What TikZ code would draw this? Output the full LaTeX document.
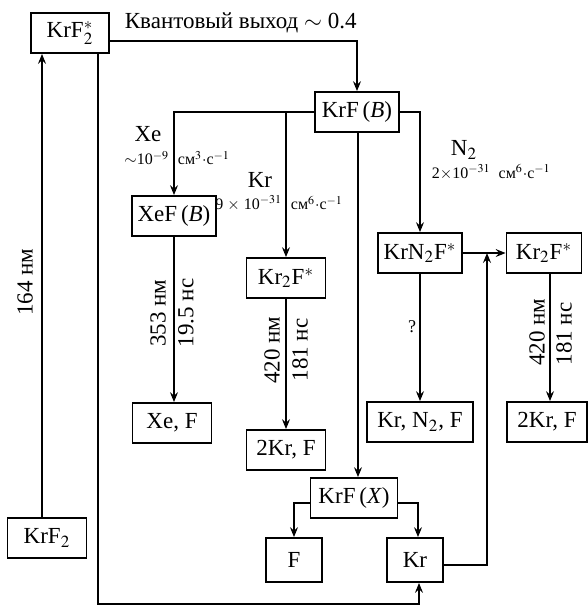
\documentclass[tikz,border=0pt]{standalone}
\usepackage{mathptmx}
\usepackage{fontspec}
\setmainfont{Liberation Serif}
\usetikzlibrary{arrows.meta}

\begin{document}
\begin{tikzpicture}[x=0.5pt,y=0.5pt,yscale=-1,xscale=1,
    box/.style={draw,line width=0.9pt,minimum height=20pt,inner sep=1pt,font=\fontsize{11.5}{13}\selectfont},
    arr/.style={line width=0.6pt,-{Stealth[length=5pt,width=4pt,inset=1.8pt]}},
    big/.style={inner sep=0.75pt,font=\fontsize{11.5}{13}\selectfont},
    rot/.style={inner sep=0.75pt,rotate=90,font=\fontsize{11.5}{13}\selectfont},
    rate/.style={inner sep=0.75pt,font=\fontsize{8}{9}\selectfont}]
        \useasboundingbox (0,0) rectangle (588,607);
        % boxes
        \draw (70,33) node [box,minimum width=39pt] (krfs) {KrF$_2^*$};
        \draw (47,538) node [box,minimum width=39.5pt] (krftwo) {KrF$_2$};
        \draw (357,112) node [box,minimum width=42pt] (krfb) {KrF\,(\textit{B})};
        \draw (174,216) node [box,minimum width=42pt] (xefb) {XeF\,(\textit{B})};
        \draw (286,278) node [box,minimum width=39.5pt] (krtwof) {Kr$_2$F$^*$};
        \draw (420,253) node [box,minimum width=42pt] (krnf) {KrN$_2$F$^*$};
        \draw (544,253) node [box,minimum width=37.5pt] (krtwofb) {Kr$_2$F$^*$};
        \draw (172,423) node [box,minimum width=39.5pt] (xef) {Xe, F};
        \draw (286,450) node [box,minimum width=39.5pt] (twokr) {2Kr, F};
        \draw (420,422) node [box,minimum width=53pt] (krnff) {Kr,\ N$_2$,\ F};
        \draw (547,422) node [box,minimum width=40pt] (twokrb) {2Kr, F};
        \draw (354,498) node [box,minimum width=43.5pt] (krfx) {KrF\,(\textit{X})};
        \draw (294,560) node [box,minimum width=28pt,minimum height=22pt] (f) {F};
        \draw (415,560) node [box,minimum width=28pt,minimum height=22pt] (kr) {Kr};
        \coordinate (join) at (487,253);
        \coordinate (bot) at (419,604);
        % connectors (yscale=-1: positive yshift goes down)
        \draw [arr] ([xshift=-2.5pt]krftwo.north) -- ([xshift=-2.5pt]krftwo.north |- krfs.south);
        \draw [arr] ([yshift=4pt]krfs.east) -| (krfb.north);
        \draw [arr] (krfb.west) -| (xefb.north);
        \draw [arr] (krfb.west -| krtwof.north) -- (krtwof.north);
        \draw [arr] ([xshift=0.5pt]krfb.south) -- ([xshift=0.5pt]krfb.south |- krfx.north);
        \draw [arr] (krfb.east) -| (krnf.north);
        \draw [arr] (xefb.south) -- (xefb.south |- xef.north);
        \draw [arr] (krtwof.south) -- (twokr.north);
        \draw [arr] (krnf.south) -- (krnff.north);
        \draw [arr] (krnf.east) -- (krtwofb.west);
        \draw [arr] ([xshift=3pt]krtwofb.south) -- ([xshift=3pt]krtwofb.south |- twokrb.north);
        \draw [arr] ([yshift=2.5pt]krfx.west) -| (f.north);
        \draw [arr] ([yshift=2.5pt]krfx.east) -| ([xshift=1.5pt]kr.north);
        \draw [arr] ([yshift=2.5pt]kr.east) -| (join);
        \draw [arr] ([xshift=14pt]krfs.south) |- (bot) -- (bot |- kr.south);
        % labels
        \draw (123,28) node [anchor=base west,inner sep=0.75pt,font=\fontsize{11.5}{13}\selectfont] {Квантовый выход $\sim$ 0.4};
        \draw (25,282) node [rot] {164 нм};
        \draw (158,313) node [rot] {353 нм};
        \draw (186,313) node [rot] {19.5 нс};
        \draw (272,350) node [rot] {420 нм};
        \draw (300,350) node [rot] {181 нс};
        \draw (537,332) node [rot] {420 нм};
        \draw (564,334) node [rot] {181 нс};
        \draw (412,327) node [inner sep=0.75pt,font=\fontsize{9}{10}\selectfont] {?};
        \draw (148,134) node [big] {Xe};
        \draw (171,158) node [rate,anchor=east] {$\sim$10$^{-9}$};
        \draw (176,158) node [rate,anchor=west] {см$^3$$\cdot$с$^{-1}$};
        \draw (260,180) node [big] {Kr};
        \draw (284,203) node [rate,anchor=east] {9 $\times$ 10$^{-31}$};
        \draw (289,203) node [rate,anchor=west] {см$^6$$\cdot$с$^{-1}$};
        \draw (464,150) node [big] {N$_2$};
        \draw (430,172) node [rate,anchor=west] {2$\times$10$^{-31}$\ \ см$^6$$\cdot$с$^{-1}$};
    \end{tikzpicture}
\end{document}
